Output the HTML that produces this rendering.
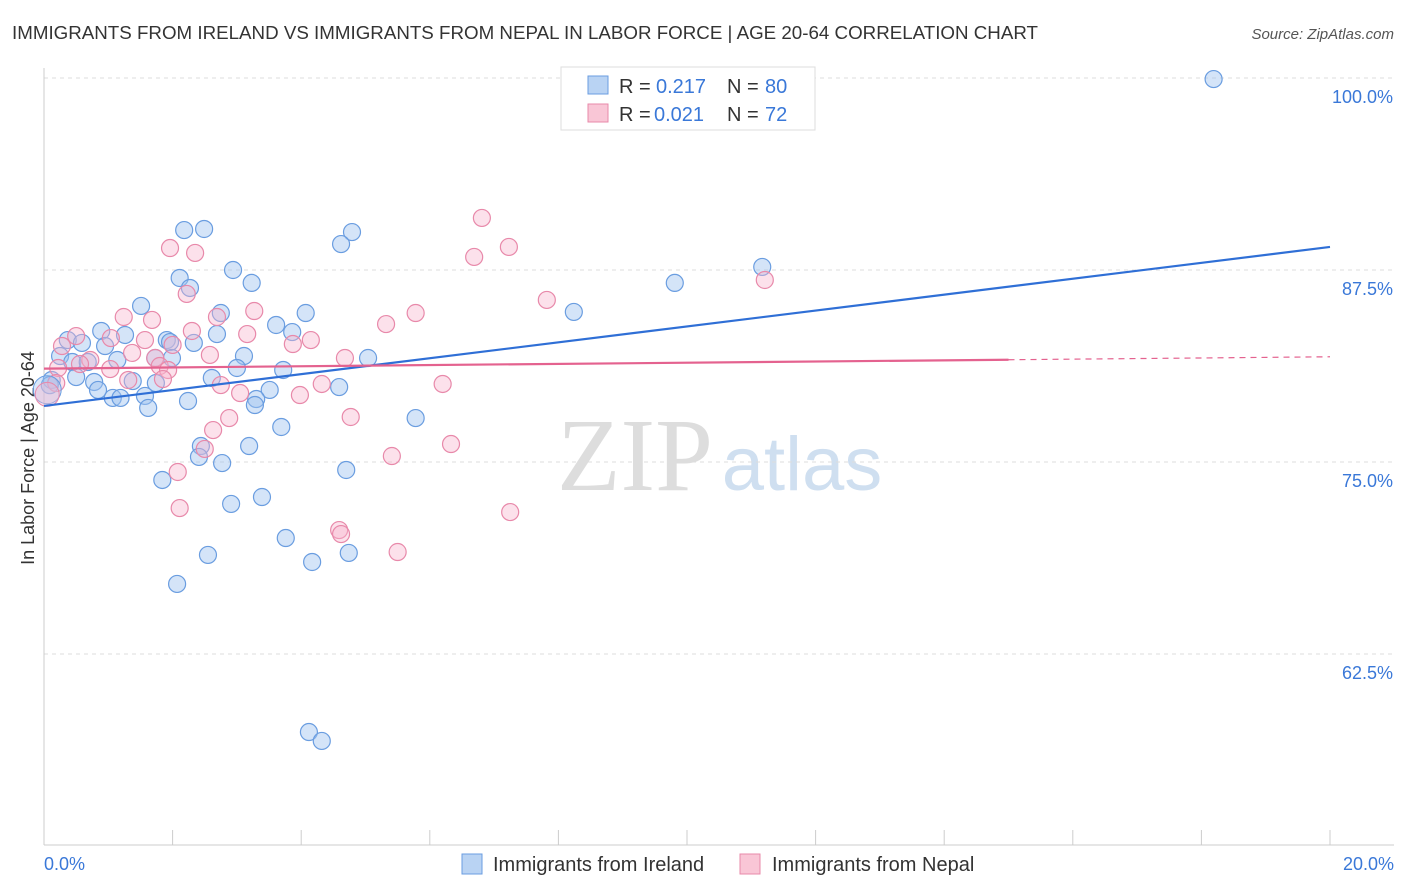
<!DOCTYPE html>
<html><head><meta charset="utf-8"><style>
body{margin:0;background:#fff;font-family:"Liberation Sans",sans-serif;}
svg{display:block}
</style></head><body>
<svg id="chart" width="1406" height="892">
<text x="12" y="39" font-size="18" fill="#333" textLength="1026" lengthAdjust="spacingAndGlyphs">IMMIGRANTS FROM IRELAND VS IMMIGRANTS FROM NEPAL IN LABOR FORCE | AGE 20-64 CORRELATION CHART</text>
<text x="1394" y="39" font-size="15" fill="#555" text-anchor="end" font-style="italic">Source: ZipAtlas.com</text>
<text x="34" y="458" font-size="18" fill="#333" text-anchor="middle" transform="rotate(-90 34 458)">In Labor Force | Age 20-64</text>
<g><text x="635" y="490" font-size="104" fill="#ddd" text-anchor="middle" font-family="Liberation Serif,serif">ZIP</text><text x="802" y="490" font-size="76" fill="#cfdff0" text-anchor="middle">atlas</text></g>
<g id="grid"></g><g id="axes"></g><g id="marks"></g>
<g>
<rect x="561" y="67" width="254" height="63" fill="#fff" stroke="#ddd"/>
<rect x="588" y="76" width="20" height="18" fill="#b9d3f3" stroke="#6a9de0"/>
<rect x="588" y="104" width="20" height="18" fill="#f9c6d6" stroke="#e889aa"/>
<text x="619" y="93" font-size="20" fill="#333">R =</text><text x="656" y="93" font-size="20" fill="#3a78d8">0.217</text>
<text x="727" y="93" font-size="20" fill="#333">N =</text><text x="765" y="93" font-size="20" fill="#3a78d8">80</text>
<text x="619" y="121" font-size="20" fill="#333">R =</text><text x="654" y="121" font-size="20" fill="#3a78d8">0.021</text>
<text x="727" y="121" font-size="20" fill="#333">N =</text><text x="765" y="121" font-size="20" fill="#3a78d8">72</text>
</g>
<g>
<rect x="462" y="854" width="20" height="20" fill="#b9d3f3" stroke="#6a9de0"/>
<text x="493" y="871" font-size="20" fill="#333">Immigrants from Ireland</text>
<rect x="740" y="854" width="20" height="20" fill="#f9c6d6" stroke="#e889aa"/>
<text x="772" y="871" font-size="20" fill="#333">Immigrants from Nepal</text>
</g>
</svg>
<script>
const yTicks=[100,87.5,75,62.5];
const xTickLabels=["0.0%","20.0%"];
const irelandX=[18.19,2.18,2.49,4.79,4.62,2.94,2.11,3.23,2.27,9.81,11.17,1.51,2.75,4.07,8.24,3.61,3.86,2.69,0.89,1.26,0.37,0.59,0.95,1.91,1.96,2.33,0.25,0.44,0.68,1.14,1.73,1.99,3.11,3.0,3.72,5.04,0.12,0.5,0.78,1.38,1.74,2.61,3.51,4.59,0.84,1.07,1.19,1.57,2.24,3.3,3.28,1.62,5.78,3.69,3.19,2.44,2.41,2.77,4.7,1.84,3.39,2.91,3.76,2.55,4.74,4.17,2.07,4.12,4.32,0.09];
const irelandY=[99.93,90.1,90.17,89.97,89.19,87.5,86.98,86.66,86.33,86.66,87.7,85.16,84.7,84.7,84.77,83.92,83.46,83.33,83.53,83.27,82.94,82.75,82.55,82.94,82.81,82.75,81.9,81.51,81.51,81.64,81.77,81.77,81.9,81.12,80.99,81.77,80.34,80.53,80.21,80.27,80.14,80.47,79.69,79.88,79.69,79.17,79.17,79.3,78.97,79.1,78.71,78.52,77.86,77.28,76.04,76.04,75.33,74.93,74.48,73.83,72.72,72.27,70.05,68.95,69.08,68.49,67.06,57.42,56.84,80.0];
const nepalX=[6.81,7.23,6.69,1.96,2.35,11.21,2.22,7.82,3.27,5.78,5.32,2.69,1.24,1.68,2.3,3.16,0.5,1.04,1.57,4.15,2.0,3.87,2.58,1.37,1.73,4.68,0.72,0.22,1.03,1.8,1.93,0.19,1.31,1.85,2.75,4.32,6.2,3.05,3.98,2.88,4.77,2.63,6.33,2.5,5.41,2.08,2.11,7.25,4.59,4.62,5.5,0.28,0.56];
const nepalY=[90.89,89.0,88.35,88.93,88.61,86.85,85.94,85.55,84.83,84.7,83.98,84.44,84.44,84.25,83.53,83.33,83.2,83.07,82.94,82.94,82.62,82.68,81.97,82.1,81.77,81.77,81.64,81.12,81.05,81.25,80.99,80.14,80.34,80.4,80.01,80.08,80.08,79.49,79.36,77.86,77.93,77.08,76.17,75.85,75.39,74.35,72.0,71.74,70.57,70.31,69.14,82.55,81.38];
const irelandTrend=[78.65,89.0];
const nepalTrend=[81.08,81.85];
const NS="http://www.w3.org/2000/svg";
const X0=44,X1=1330,YTOP=78;
const xs=v=>X0+v/20*(X1-X0);
const ys=v=>YTOP+(100-v)/12.5*192;
function mk(t,a,p){const e=document.createElementNS(NS,t);for(const k in a)e.setAttribute(k,a[k]);p.appendChild(e);return e;}
const grid=document.getElementById('grid'),axes=document.getElementById('axes'),marks=document.getElementById('marks');
yTicks.forEach(t=>{const l=mk('line',{x1:X0,x2:1394,y1:ys(t),y2:ys(t),stroke:'#ddd','stroke-dasharray':'4 4'},grid);


const tx=mk('text',{x:1393,y:ys(t)+25,'font-size':18,fill:'#3a78d8','text-anchor':'end'},axes);tx.textContent=t.toFixed(1)+'%';

});
mk('line',{x1:X0,x2:X0,y1:68,y2:845,stroke:'#ccc'},axes);
mk('line',{x1:X0,x2:1394,y1:845,y2:845,stroke:'#ccc'},axes);
for(let i=0;i<=10;i++){mk('line',{x1:xs(i*2),x2:xs(i*2),y1:830,y2:845,stroke:'#ccc'},axes);}
xTickLabels.forEach((s,i)=>{const tx=mk('text',{x:i?1394:44,y:870,'font-size':18,fill:'#3a78d8','text-anchor':i?'end':'start'},axes);tx.textContent=s;

});
function pts(X,Y,fill,stroke,name){X.forEach((x,i)=>{const c=mk('circle',{cx:xs(x),cy:ys(Y[i]),r:8.5,fill:fill,stroke:stroke,'stroke-width':1.2},marks);

});}
pts(irelandX,irelandY,'rgba(160,195,240,0.45)','#6a9de0','ireland-point');
pts(nepalX,nepalY,'rgba(248,180,205,0.4)','#e889aa','nepal-point');
const b1=mk('circle',{cx:xs(0.05),cy:ys(79.7),r:14,fill:'rgba(160,195,240,0.4)',stroke:'#6a9de0'},marks);


const b2=mk('circle',{cx:xs(0.05),cy:ys(79.4),r:12,fill:'rgba(248,180,205,0.4)',stroke:'#e889aa'},marks);


const t1=mk('line',{x1:xs(0),y1:ys(irelandTrend[0]),x2:xs(20),y2:ys(irelandTrend[1]),stroke:'#2f6fd6','stroke-width':2.2},marks);


const mid=nepalTrend[0]+(nepalTrend[1]-nepalTrend[0])*15/20;
const t2=mk('line',{x1:xs(0),y1:ys(nepalTrend[0]),x2:xs(15),y2:ys(mid),stroke:'#e4628f','stroke-width':2.2},marks);


const t3=mk('line',{x1:xs(15),y1:ys(mid),x2:xs(20),y2:ys(nepalTrend[1]),stroke:'#e4628f','stroke-width':1.2,'stroke-dasharray':'6 5'},marks);


</script>
</body></html>
